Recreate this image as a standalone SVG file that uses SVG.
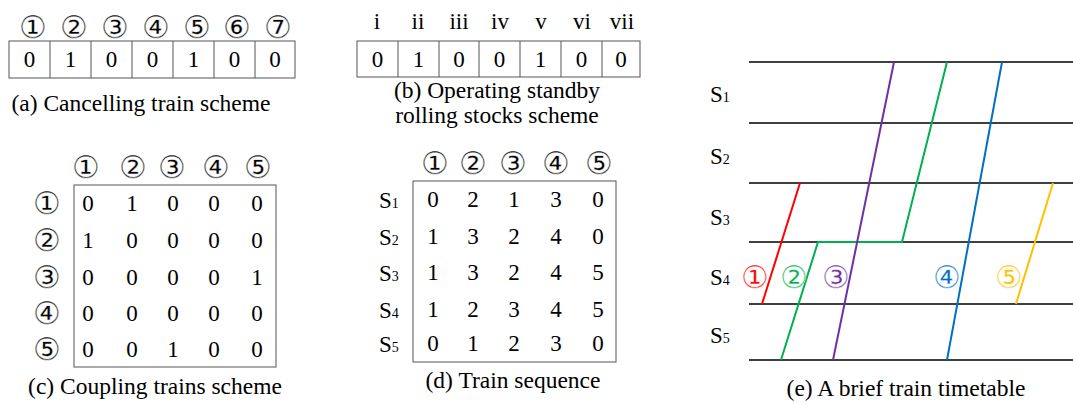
<svg xmlns="http://www.w3.org/2000/svg" width="1073" height="405" viewBox="0 0 1073 405">
  <style>
    text { font-family: "Liberation Serif", "Times New Roman", serif; fill: #000; }
    .d { font-size: 23px; text-anchor: middle; }
    .cap { font-size: 23.5px; text-anchor: middle; }
    /* circled numerals: a faint white halo over the fill keeps their outlines light */
    .c { font-family: "Noto Sans CJK JP", "Noto Sans CJK SC", sans-serif; font-size: 31px; text-anchor: middle; fill: #444; stroke: #fff; stroke-width: 0.4px; }
    .rn { font-size: 23px; text-anchor: middle; }
    .s { font-size: 23px; }
    .sub { font-size: 14px; }
    .cell { fill: none; stroke: #555; stroke-width: 1; }
    .grid { stroke: #000; stroke-width: 1.5; }
    .tr { fill: none; stroke-width: 2; }
  </style>

  <!-- (a) cancelling train scheme -->
  <g id="panel-a">
    <g class="c">
      <text x="33" y="37.5">①</text><text x="74" y="37.5">②</text><text x="115" y="37.5">③</text>
      <text x="156" y="37.5">④</text><text x="197" y="37.5">⑤</text><text x="237" y="37.5">⑥</text>
      <text x="278" y="37.5">⑦</text>
    </g>
    <rect class="cell" x="9" y="41" width="286" height="37"/>
    <path class="cell" d="M50 41V78M91 41V78M132 41V78M173 41V78M214 41V78M255 41V78"/>
    <g class="d">
      <text x="29.5" y="67">0</text><text x="70.5" y="67">1</text><text x="111.5" y="67">0</text>
      <text x="152.5" y="67">0</text><text x="193.5" y="67">1</text><text x="234.5" y="67">0</text>
      <text x="275" y="67">0</text>
    </g>
    <text class="cap" x="141" y="111">(a) Cancelling train scheme</text>
  </g>

  <!-- (b) operating standby rolling stocks scheme -->
  <g id="panel-b">
    <g class="rn">
      <text x="377" y="29">i</text><text x="418" y="29">ii</text><text x="459" y="29">iii</text>
      <text x="500" y="29">iv</text><text x="541" y="29">v</text><text x="582" y="29">vi</text>
      <text x="622" y="29">vii</text>
    </g>
    <rect class="cell" x="357" y="41" width="283" height="36"/>
    <path class="cell" d="M398 41V77M439 41V77M479 41V77M520 41V77M561 41V77M602 41V77"/>
    <g class="d">
      <text x="377.5" y="67">0</text><text x="418.5" y="67">1</text><text x="459" y="67">0</text>
      <text x="499.5" y="67">0</text><text x="540.5" y="67">1</text><text x="581.5" y="67">0</text>
      <text x="621" y="67">0</text>
    </g>
    <text class="cap" x="497" y="98">(b) Operating standby</text>
    <text class="cap" x="497" y="123">rolling stocks scheme</text>
  </g>

  <!-- (c) coupling trains scheme -->
  <g id="panel-c">
    <g class="c">
      <text x="86" y="178">①</text><text x="133" y="178">②</text><text x="172" y="178">③</text>
      <text x="216" y="178">④</text><text x="258" y="178">⑤</text>
      <text x="47" y="214">①</text><text x="47" y="251">②</text><text x="47" y="288">③</text>
      <text x="47" y="324">④</text><text x="47" y="360">⑤</text>
    </g>
    <rect class="cell" x="74" y="185" width="202" height="182"/>
    <g class="d">
      <text x="88" y="211">0</text><text x="132" y="211">1</text><text x="173" y="211">0</text><text x="214" y="211">0</text><text x="257" y="211">0</text>
      <text x="88" y="248">1</text><text x="132" y="248">0</text><text x="173" y="248">0</text><text x="214" y="248">0</text><text x="257" y="248">0</text>
      <text x="88" y="285">0</text><text x="132" y="285">0</text><text x="173" y="285">0</text><text x="214" y="285">0</text><text x="257" y="285">1</text>
      <text x="88" y="321">0</text><text x="132" y="321">0</text><text x="173" y="321">0</text><text x="214" y="321">0</text><text x="257" y="321">0</text>
      <text x="88" y="357">0</text><text x="132" y="357">0</text><text x="173" y="357">1</text><text x="214" y="357">0</text><text x="257" y="357">0</text>
    </g>
    <text class="cap" x="155" y="394">(c) Coupling trains scheme</text>
  </g>

  <!-- (d) train sequence -->
  <g id="panel-d">
    <g class="c">
      <text x="435" y="174">①</text><text x="473" y="174">②</text><text x="513" y="174">③</text>
      <text x="556" y="174">④</text><text x="599" y="174">⑤</text>
    </g>
    <rect class="cell" x="413" y="181" width="203" height="181"/>
    <g class="s">
      <text x="379" y="208">S<tspan class="sub">1</tspan></text>
      <text x="379" y="245">S<tspan class="sub">2</tspan></text>
      <text x="379" y="281">S<tspan class="sub">3</tspan></text>
      <text x="379" y="318">S<tspan class="sub">4</tspan></text>
      <text x="379" y="352">S<tspan class="sub">5</tspan></text>
    </g>
    <g class="d">
      <text x="433" y="207">0</text><text x="473" y="207">2</text><text x="514" y="207">1</text><text x="556" y="207">3</text><text x="598" y="207">0</text>
      <text x="433" y="244">1</text><text x="473" y="244">3</text><text x="514" y="244">2</text><text x="556" y="244">4</text><text x="598" y="244">0</text>
      <text x="433" y="280">1</text><text x="473" y="280">3</text><text x="514" y="280">2</text><text x="556" y="280">4</text><text x="598" y="280">5</text>
      <text x="433" y="317">1</text><text x="473" y="317">2</text><text x="514" y="317">3</text><text x="556" y="317">4</text><text x="598" y="317">5</text>
      <text x="433" y="351">0</text><text x="473" y="351">1</text><text x="514" y="351">2</text><text x="556" y="351">3</text><text x="598" y="351">0</text>
    </g>
    <text class="cap" x="513" y="388">(d) Train sequence</text>
  </g>

  <!-- (e) brief train timetable -->
  <g id="panel-e">
    <g id="stations">
      <path class="grid" d="M749 62H1073M749 123H1073M749 183H1073M749 242H1073M749 304H1073M749 360H1073"/>
      <g class="s">
        <text x="710" y="102">S<tspan class="sub">1</tspan></text>
        <text x="710" y="164">S<tspan class="sub">2</tspan></text>
        <text x="710" y="225">S<tspan class="sub">3</tspan></text>
        <text x="710" y="285">S<tspan class="sub">4</tspan></text>
        <text x="710" y="343">S<tspan class="sub">5</tspan></text>
      </g>
    </g>
    <g id="connectors">
      <path class="tr" stroke="#ff0000" d="M800 183L762 304"/>
      <path class="tr" stroke="#00b050" d="M947 62L902 242H818L781 360"/>
      <path class="tr" stroke="#7030a0" d="M894 62L833 360"/>
      <path class="tr" stroke="#0070c0" d="M1002 62L947 360"/>
      <path class="tr" stroke="#ffc000" d="M1053 183L1016 304"/>
    </g>
    <g id="train-labels" class="c">
      <text x="755" y="288" style="fill:#ff0000">①</text>
      <text x="794" y="288" style="fill:#00b050">②</text>
      <text x="836" y="288" style="fill:#7030a0">③</text>
      <text x="947" y="288" style="fill:#0070c0">④</text>
      <text x="1009" y="288" style="fill:#ffc000">⑤</text>
    </g>
    <text class="cap" x="906" y="396">(e) A brief train timetable</text>
  </g>
</svg>
